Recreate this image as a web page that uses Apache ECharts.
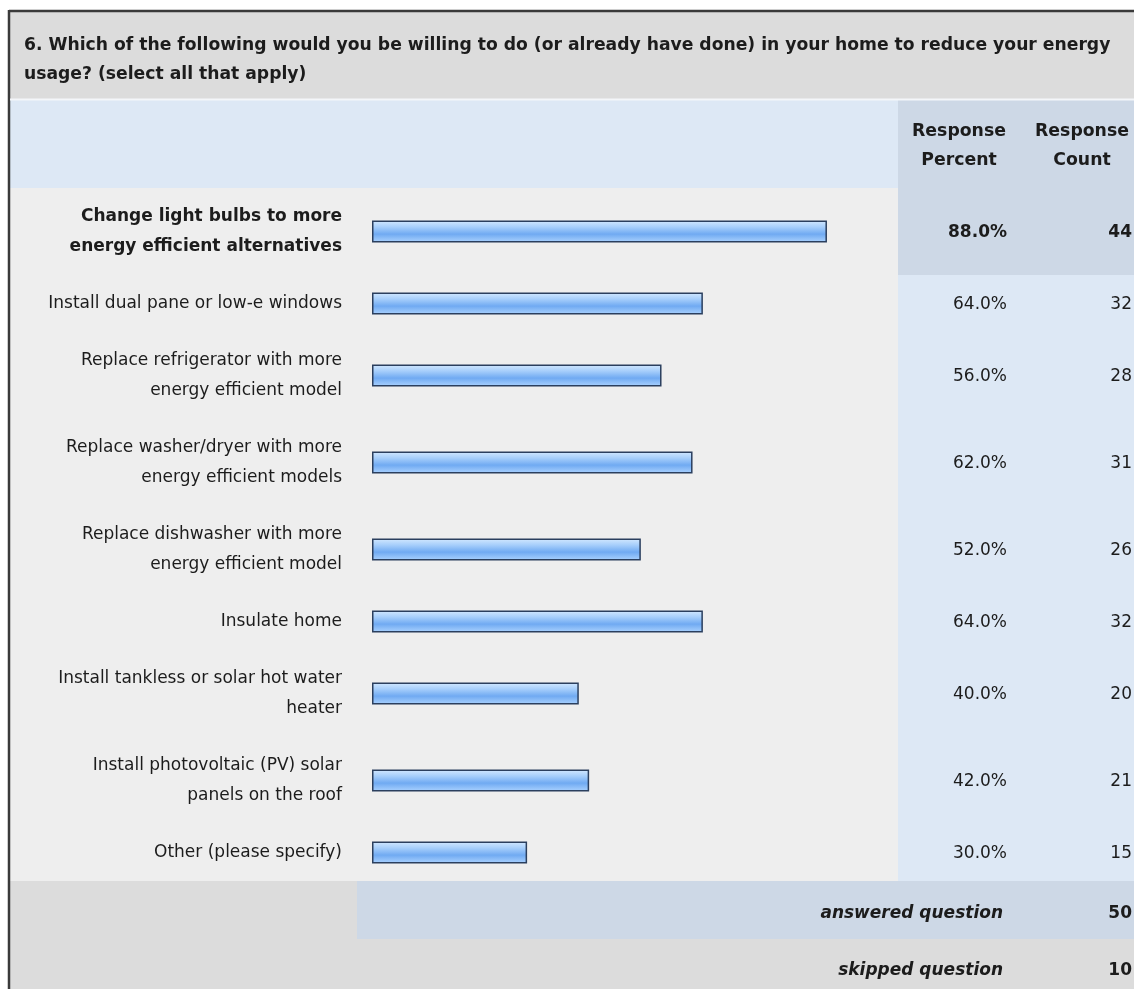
<!DOCTYPE html>
<html>
<head>
<meta charset="utf-8">
<title>Energy survey Q6</title>
<script src="https://cdn.jsdelivr.net/npm/echarts@6/dist/echarts.min.js"></script>
<style>
  html, body { margin: 0; padding: 0; background: #fff; }
  #main { width: 1134px; height: 989px; }
</style>
</head>
<body>
<div id="main"></div>
<script>
const questionTitle = '6. Which of the following would you be willing to do (or already have done) in your home to reduce your energy\nusage? (select all that apply)';
const categories = [
  'Change light bulbs to more\nenergy efficient alternatives',
  'Install dual pane or low-e windows',
  'Replace refrigerator with more\nenergy efficient model',
  'Replace washer/dryer with more\nenergy efficient models',
  'Replace dishwasher with more\nenergy efficient model',
  'Insulate home',
  'Install tankless or solar hot water\nheater',
  'Install photovoltaic (PV) solar\npanels on the roof',
  'Other (please specify)'
];
const responsePercent = [88, 64, 56, 62, 52, 64, 40, 42, 30];
const responseCount = [44, 32, 28, 31, 26, 32, 20, 21, 15];
const columnHeaders = ['Response\nPercent', 'Response\nCount'];
const answeredQuestion = 50;
const skippedQuestion = 10;

const FONT = '"DejaVu Sans", Verdana, sans-serif';
const TXT = '#1c1c1c';

// layout
const W = 1134;
const bodyTop = 188;
const barLeft = 372, barSpan = 517;
const splitX = 898;
const rowH = categories.map(c => c.indexOf('\n') >= 0 ? 87 : 57);

const rowTops = [];
let y = bodyTop;
rowH.forEach(h => { rowTops.push(y); y += h; });
const bodyBottom = y;

const barFill = {
  type: 'linear', x: 0, y: 0, x2: 0, y2: 1,
  colorStops: [
    { offset: 0, color: '#d4e9ff' },
    { offset: 0.3, color: '#a6cefb' },
    { offset: 0.62, color: '#70aaf2' },
    { offset: 1, color: '#acd3ff' }
  ]
};

const grids = [], xAxes = [], yAxes = [], series = [];
categories.forEach((cat, i) => {
  grids.push({ left: barLeft, width: barSpan, top: rowTops[i], height: rowH[i] });
  xAxes.push({
    type: 'value', gridIndex: i, min: 0, max: 100,
    show: false
  });
  yAxes.push({
    type: 'category', gridIndex: i, data: [cat],
    axisLine: { show: false }, axisTick: { show: false }, splitLine: { show: false },
    axisLabel: {
      margin: 30, color: TXT, fontFamily: FONT, fontSize: 17, lineHeight: 30,
      fontWeight: i === 0 ? 'bold' : 'normal', align: 'right'
    }
  });
  series.push({
    type: 'bar', xAxisIndex: i, yAxisIndex: i,
    data: [responsePercent[i]], barWidth: 22,
    itemStyle: { color: barFill, borderColor: '#2b3f5e', borderWidth: 1.5 },
    silent: true
  });
});

// table backgrounds and text
const g = [];
g.push({ type: 'rect', shape: { x: 9, y: 11, width: W, height: 88 }, style: { fill: '#dcdcdc' }, z: -10 });
g.push({ type: 'rect', shape: { x: 9, y: 100, width: splitX - 9, height: bodyTop - 100 }, style: { fill: '#dde8f5' }, z: -10 });
g.push({ type: 'rect', shape: { x: splitX, y: 100, width: W - splitX, height: bodyTop - 100 }, style: { fill: '#cdd8e6' }, z: -10 });
g.push({ type: 'rect', shape: { x: 9, y: bodyTop, width: splitX - 9, height: bodyBottom - bodyTop }, style: { fill: '#eeeeee' }, z: -10 });
rowTops.forEach((t, i) => {
  g.push({ type: 'rect', shape: { x: splitX, y: t, width: W - splitX, height: rowH[i] },
    style: { fill: i === 0 ? '#cdd8e6' : '#dde8f5' }, z: -10 });
  const cy = t + rowH[i] / 2 + 1;
  g.push({ type: 'text', x: 1007, y: cy, z: 5, style: {
    text: responsePercent[i].toFixed(1) + '%', fill: TXT, font: (i === 0 ? 'bold ' : '') + '17px ' + FONT,
    textAlign: 'right', textVerticalAlign: 'middle' } });
  g.push({ type: 'text', x: 1132, y: cy, z: 5, style: {
    text: String(responseCount[i]), fill: TXT, font: (i === 0 ? 'bold ' : '') + '17px ' + FONT,
    textAlign: 'right', textVerticalAlign: 'middle' } });
});
g.push({ type: 'rect', shape: { x: 9, y: bodyBottom, width: W, height: 989 - bodyBottom }, style: { fill: '#dcdcdc' }, z: -10 });
g.push({ type: 'rect', shape: { x: 357, y: bodyBottom, width: W - 357, height: 58 }, style: { fill: '#cdd8e6' }, z: -9 });

// outer frame
g.push({ type: 'line', shape: { x1: 9, y1: 11, x2: W, y2: 11 }, style: { stroke: '#3a3a3a', lineWidth: 2.5 }, z: 10 });
g.push({ type: 'line', shape: { x1: 9, y1: 10, x2: 9, y2: 989 }, style: { stroke: '#3a3a3a', lineWidth: 2.5 }, z: 10 });
g.push({ type: 'line', shape: { x1: 10, y1: 99.5, x2: W, y2: 99.5 }, style: { stroke: '#f4f6f9', lineWidth: 2 }, z: 10 });

g.push({ type: 'text', x: 24, y: 60, z: 5, style: {
  text: questionTitle, fill: TXT, font: 'bold 17.2px ' + FONT, lineHeight: 29,
  textAlign: 'left', textVerticalAlign: 'middle' } });
g.push({ type: 'text', x: 959, y: 146, z: 5, style: {
  text: columnHeaders[0], fill: TXT, font: 'bold 17.3px ' + FONT, lineHeight: 29,
  textAlign: 'center', textVerticalAlign: 'middle' } });
g.push({ type: 'text', x: 1082, y: 146, z: 5, style: {
  text: columnHeaders[1], fill: TXT, font: 'bold 17.3px ' + FONT, lineHeight: 29,
  textAlign: 'center', textVerticalAlign: 'middle' } });

g.push({ type: 'text', x: 1003, y: bodyBottom + 33, z: 5, style: {
  text: 'answered question', fill: TXT, font: 'italic bold 17px ' + FONT,
  textAlign: 'right', textVerticalAlign: 'middle' } });
g.push({ type: 'text', x: 1132, y: bodyBottom + 33, z: 5, style: {
  text: String(answeredQuestion), fill: TXT, font: 'bold 17px ' + FONT,
  textAlign: 'right', textVerticalAlign: 'middle' } });
g.push({ type: 'text', x: 1003, y: bodyBottom + 90, z: 5, style: {
  text: 'skipped question', fill: TXT, font: 'italic bold 17px ' + FONT,
  textAlign: 'right', textVerticalAlign: 'middle' } });
g.push({ type: 'text', x: 1132, y: bodyBottom + 90, z: 5, style: {
  text: String(skippedQuestion), fill: TXT, font: 'bold 17px ' + FONT,
  textAlign: 'right', textVerticalAlign: 'middle' } });

var myChart = echarts.init(document.getElementById('main'));
myChart.setOption({
  animation: false,
  backgroundColor: '#ffffff',
  grid: grids,
  xAxis: xAxes,
  yAxis: yAxes,
  series: series,
  graphic: { elements: g }
});
</script>
</body>
</html>
